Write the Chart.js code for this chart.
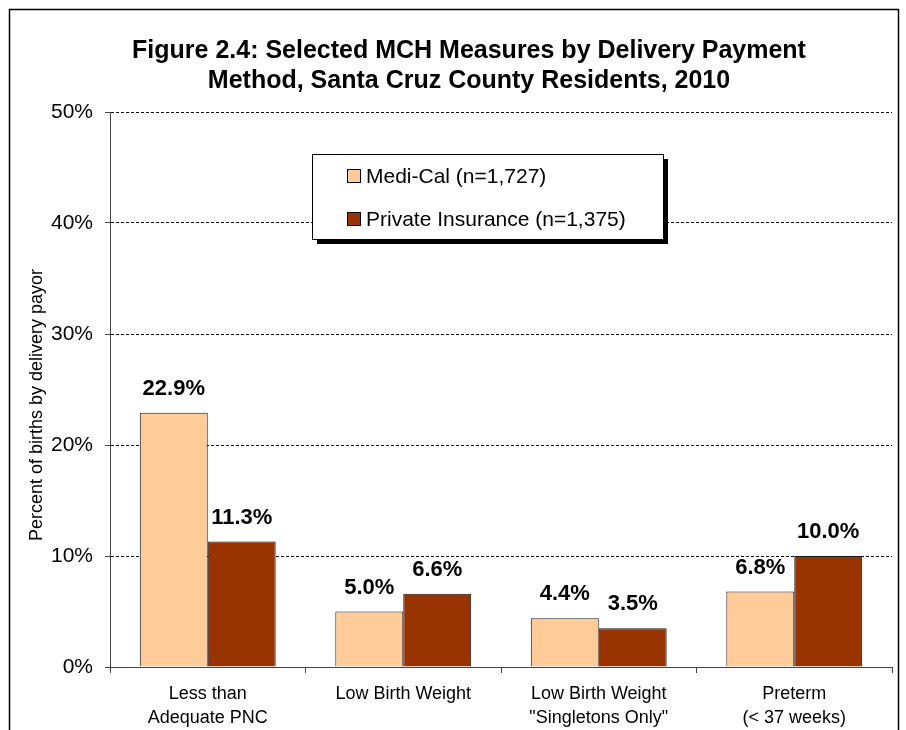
<!DOCTYPE html>
<html>
<head>
<meta charset="utf-8">
<script src="https://cdn.jsdelivr.net/npm/chart.js@4"></script>
<style>
  html, body { margin: 0; padding: 0; background: #fff; }
  #wrap { width: 906px; height: 730px; }
</style>
</head>
<body>
<div id="wrap"><canvas id="myChart" width="906" height="730"></canvas></div>
<script>
// chart data
const titleLines = ['Figure 2.4: Selected MCH Measures by Delivery Payment', 'Method, Santa Cruz County Residents, 2010']
const categories = [
  ['Less than', 'Adequate PNC'],
  ['Low Birth Weight'],
  ['Low Birth Weight', '"Singletons Only"'],
  ['Preterm', '(< 37 weeks)']
]
const mediCal = [22.9, 5.0, 4.4, 6.8]
const privateIns = [11.3, 6.6, 3.5, 10.0]
const seriesNames = ['Medi-Cal (n=1,727)', 'Private Insurance (n=1,375)']
const yTicks = [0, 10, 20, 30, 40, 50]
const yTitle = 'Percent of births by delivery payor'

const FONT = 'Arial, "Liberation Sans", sans-serif'

// white page + outer frame
const framePlugin = {
  id: 'frame',
  beforeDraw(chart) {
    const c = chart.ctx
    c.save()
    c.fillStyle = '#fff'
    c.fillRect(0, 0, chart.width, chart.height)
    c.strokeStyle = '#000'
    c.lineWidth = 1.5
    c.strokeRect(9.5, 9.5, 889, 800)
    c.restore()
  }
}

// two-line title + y axis title, placed like the original
const titlePlugin = {
  id: 'bigTitle',
  afterDraw(chart) {
    const c = chart.ctx
    c.save()
    c.font = 'bold 25px ' + FONT
    c.fillStyle = '#000'
    c.textAlign = 'center'
    c.textBaseline = 'alphabetic'
    titleLines.forEach((t, i) => c.fillText(t, 469, 58 + i * 30))

    // y title sits a bit below the plot's middle in the original
    c.font = '18px ' + FONT
    c.textBaseline = 'middle'
    c.translate(37, 405)
    c.rotate(-Math.PI / 2)
    c.fillText(yTitle, 0, 0)
    c.restore()
  }
}

// value labels above bars
const labelPlugin = {
  id: 'valueLabels',
  afterDatasetsDraw(chart) {
    const c = chart.ctx
    c.save()
    c.font = 'bold 22px ' + FONT
    c.fillStyle = '#000'
    c.textAlign = 'center'
    c.textBaseline = 'middle'
    chart.data.datasets.forEach((ds, i) => {
      chart.getDatasetMeta(i).data.forEach((bar, j) => {
        c.fillText(ds.data[j].toFixed(1) + '%', bar.x, bar.y - 24)
      })
    })
    c.restore()
  }
}

// boxed legend with drop shadow
const legendPlugin = {
  id: 'boxLegend',
  afterDraw(chart) {
    const c = chart.ctx
    const x = 312, y = 154, w = 351, h = 85
    c.save()
    c.fillStyle = '#000'
    c.fillRect(x + 5, y + 5, w, h)
    c.fillStyle = '#fff'
    c.fillRect(x, y, w, h)
    c.strokeStyle = '#000'
    c.lineWidth = 1
    c.strokeRect(x + 0.5, y + 0.5, w, h)
    c.font = '21px ' + FONT
    c.textBaseline = 'middle'
    c.textAlign = 'left'
    chart.data.datasets.forEach((ds, i) => {
      const cy = 176 + i * 43
      c.fillStyle = ds.backgroundColor
      c.fillRect(347, cy - 7, 14, 14)
      c.strokeRect(347.5, cy - 6.5, 13, 13)
      c.fillStyle = '#000'
      c.fillText(ds.label, 366, cy + 1)
    })
    c.restore()
  }
}

const canvas = document.getElementById('myChart')
const ctx = canvas.getContext('2d')

const myChart = new Chart(ctx, {
  type: 'bar',
  data: {
    labels: categories,
    datasets: [{
      label: seriesNames[0],
      data: mediCal,
      backgroundColor: '#FFCC99',
      borderColor: '#1a1a1a',
      borderWidth: 1,
      barPercentage: 1.0,
      categoryPercentage: 0.695
    }, {
      label: seriesNames[1],
      data: privateIns,
      backgroundColor: '#993300',
      borderColor: '#1a1a1a',
      borderWidth: 1,
      barPercentage: 1.0,
      categoryPercentage: 0.695
    }]
  },
  options: {
    responsive: false,
    animation: false,
    devicePixelRatio: 1,
    layout: { padding: { left: 12, right: 14, top: 112, bottom: 0 } },
    plugins: {
      legend: { display: false },
      title: { display: false },
      tooltip: { enabled: false }
    },
    scales: {
      x: {
        offset: true,
        grid: {
          offset: true,
          drawOnChartArea: false,
          tickLength: 6,
          color: '#444'
        },
        border: { color: '#444', width: 1 },
        ticks: {
          color: '#000',
          padding: 9,
          maxRotation: 0,
          autoSkip: false,
          font: { family: FONT, size: 18, lineHeight: 1.33 }
        },
        afterFit(scale) { scale.height = 63 }
      },
      y: {
        min: 0,
        max: 50,
        afterBuildTicks(scale) { scale.ticks = yTicks.map(v => ({ value: v })) },
        grid: {
          color: '#000',
          lineWidth: 1,
          tickLength: 5,
          tickColor: '#444',
          tickBorderDash: []
        },
        border: { color: '#444', width: 1, dash: [3, 2] },
        ticks: {
          color: '#000',
          padding: 12,
          font: { family: FONT, size: 21 },
          callback: v => v + '%'
        },
        afterFit(scale) { scale.width = 98 }
      }
    }
  },
  plugins: [framePlugin, labelPlugin, legendPlugin, titlePlugin]
})
</script>
</body>
</html>
